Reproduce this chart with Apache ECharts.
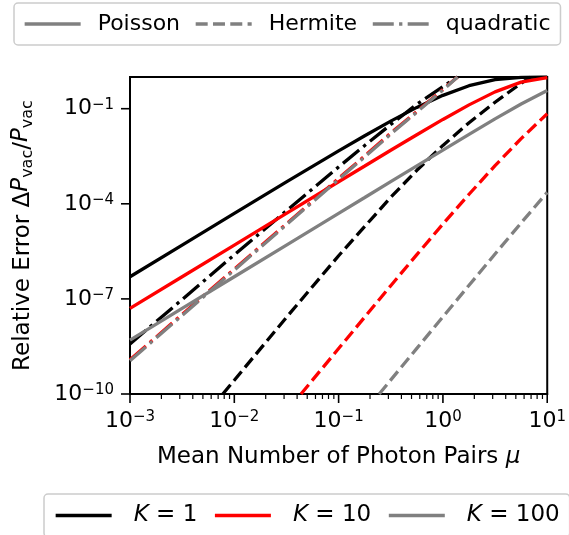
<!DOCTYPE html>
<html>
<head>
<meta charset="utf-8">
<script src="https://cdn.jsdelivr.net/npm/echarts@6/dist/echarts.min.js"></script>
<style>
  html, body { margin: 0; padding: 0; background: #fff; }
  #chart { width: 569px; height: 535px; }
</style>
</head>
<body>
<div id="chart"></div>
<script>
// values (relative error vs mean photon pairs)
const muPoisson = [1e-3, 3.16e-3, 1e-2, 3.16e-2, 0.1, 0.178, 0.316, 0.562, 1, 1.78, 3.16, 5.62, 10]
const poissonK1 = [5.0e-7, 5.0e-6, 4.97e-5, 4.90e-4, 4.68e-3, 1.40e-2, 4.06e-2, 0.110, 0.264, 0.531, 0.824, 0.976, 0.9995]
const poissonK10 = [5.0e-8, 5.0e-7, 5.0e-6, 4.99e-5, 4.97e-4, 1.56e-3, 4.89e-3, 1.51e-2, 4.58e-2, 0.132, 0.340, 0.687, 0.954]
const poissonK100 = [5.0e-9, 5.0e-8, 5.0e-7, 5.0e-6, 5.0e-5, 1.58e-4, 4.99e-4, 1.58e-3, 4.96e-3, 1.55e-2, 4.78e-2, 0.141, 0.374]

const muHermiteK1 = [7.76e-3, 1e-2, 3.16e-2, 0.1, 0.316, 0.562, 1, 1.78, 3.16, 5.62, 6.92]
const hermiteK1 = [1.0e-10, 2.72e-10, 2.61e-8, 2.30e-6, 1.60e-4, 1.14e-3, 6.95e-3, 3.61e-2, 0.160, 0.634, 1.0]
const muHermiteK10 = [4.36e-2, 0.1, 0.316, 0.562, 1, 1.78, 3.16, 5.62, 10]
const hermiteK10 = [1.0e-10, 2.72e-9, 2.61e-7, 2.49e-6, 2.30e-5, 2.00e-4, 1.60e-3, 1.14e-2, 6.95e-2]
const muHermiteK100 = [0.245, 0.562, 1, 1.78, 3.16, 5.62, 10]
const hermiteK100 = [1.0e-10, 2.75e-9, 2.72e-8, 2.69e-7, 2.61e-6, 2.49e-5, 2.30e-4]

const muQuad = [1e-3, 3.16e-3, 1e-2, 3.16e-2, 0.1, 0.178, 0.316, 0.562, 1, 1.38]
const quadK1 = [3.80e-9, 9.55e-8, 2.45e-6, 6.03e-5, 1.45e-3, 6.92e-3, 3.16e-2, 0.138, 0.501, 1.0]
const quadK10 = [1.20e-9, 3.24e-8, 8.71e-7, 2.34e-5, 6.31e-4, 3.24e-3, 1.70e-2, 8.13e-2, 0.407, 1.0]
const quadK100 = [1.12e-9, 3.02e-8, 8.13e-7, 2.19e-5, 5.89e-4, 3.02e-3, 1.58e-2, 7.76e-2, 0.389, 1.0]

const xMajorTicks = [1e-3, 1e-2, 1e-1, 1, 10]
const yMajorTicks = [1e-10, 1e-7, 1e-4, 1e-1]

const font = 'DejaVu Sans'
const lw = 3.3
const dashed = [12, 5.3]
const dashdot = [21, 5.3, 3.3, 5.3]
const xMin = 1e-3
const yMin = 1e-10

const xMinorTicks = []
for (let d = -3; d < 1; d++) {
	for (let m = 2; m < 10; m++) {
		xMinorTicks.push(m * Math.pow(10, d))
	}
}

// tick rows: [x, y, 0 = x tick / 1 = y tick, length, width]
const tickRows = []
xMajorTicks.forEach(v => tickRows.push([v, yMin, 0, 9, 1.6]))
xMinorTicks.forEach(v => tickRows.push([v, yMin, 0, 5, 1.2]))
yMajorTicks.forEach(v => tickRows.push([xMin, v, 1, 9, 1.6]))

const pair = (xs, ys) => xs.map((x, i) => [x, ys[i]])

function curve(name, color, type, xs, ys) {
	return {
		name: name,
		type: 'line',
		symbol: 'none',
		color: color,
		lineStyle: { color: color, width: lw, type: type },
		data: pair(xs, ys),
		animation: false,
		clip: true
	}
}

// empty series, only there to give the line-style legend its entries
function styleOnly(name, type) {
	return {
		name: name,
		type: 'line',
		symbol: 'none',
		color: '#808080',
		lineStyle: { color: '#808080', width: lw, type: type },
		data: [],
		animation: false
	}
}

function powLabel(value) {
	const e = Math.round(Math.log10(value))
	return '{b|10}{s|' + (e < 0 ? '\u2212' + (-e) : e) + '}'
}

const labelRich = {
	b: { fontFamily: font, fontSize: 22, color: '#000', lineHeight: 22, verticalAlign: 'bottom' },
	s: { fontFamily: font, fontSize: 15, color: '#000', lineHeight: 15, verticalAlign: 'top' }
}

const legendBox = {
	itemWidth: 56,
	itemHeight: 22,
	borderColor: '#cccccc',
	borderWidth: 1.5,
	borderRadius: 4,
	backgroundColor: '#fff',
	selectedMode: false,
	itemStyle: { opacity: 0, borderWidth: 0 },
	lineStyle: { width: lw }
}

const chart = echarts.init(document.getElementById('chart'))

chart.setOption({
	backgroundColor: '#fff',
	animation: false,
	legend: [Object.assign({}, legendBox, {
		data: ['Poisson', 'Hermite', 'quadratic'],
		left: 14,
		top: 3,
		width: 600,
		padding: [10, 10, 10, 9],
		itemGap: 14,
		textStyle: { fontFamily: font, fontSize: 22, color: '#000', padding: [0, 0, 0, 12] }
	}), Object.assign({}, legendBox, {
		data: ['K = 1', 'K = 10', 'K = 100'],
		left: 44,
		top: 494,
		width: 600,
		padding: [10, 10, 10, 10],
		itemGap: 16,
		formatter: name => name.replace('K', '{i|K}'),
		textStyle: {
			fontFamily: font, fontSize: 23, color: '#000', padding: [0, 0, 0, 17],
			rich: { i: { fontFamily: font, fontSize: 23, fontStyle: 'italic', color: '#000' } }
		}
	})],
	grid: {
		left: 130,
		top: 77,
		width: 419,
		height: 317,
		show: true,
		borderColor: '#000',
		borderWidth: 2,
		backgroundColor: 'transparent'
	},
	xAxis: {
		type: 'log',
		logBase: 10,
		min: xMin,
		max: 10,
		name: 'Mean Number of Photon Pairs {i|\u03bc}',
		nameLocation: 'middle',
		nameGap: 52,
		nameTextStyle: {
			fontFamily: font, fontSize: 23, color: '#000',
			rich: { i: { fontFamily: font, fontSize: 23, fontStyle: 'italic', color: '#000' } }
		},
		axisLine: { show: true, lineStyle: { color: '#000', width: 2 } },
		axisTick: { show: false },
		axisLabel: { customValues: xMajorTicks, formatter: powLabel, margin: 16, rich: labelRich },
		splitLine: { show: false },
		minorTick: { show: false }
	},
	yAxis: {
		type: 'log',
		logBase: 10,
		min: yMin,
		max: 1,
		name: 'Relative Error \u0394{i|P}{sub|vac}/{i|P}{sub|vac}',
		nameLocation: 'middle',
		nameRotate: 90,
		nameGap: 94,
		nameTextStyle: {
			fontFamily: font, fontSize: 23, color: '#000', lineHeight: 26,
			rich: {
				i: { fontFamily: font, fontSize: 23, fontStyle: 'italic', color: '#000', lineHeight: 26, verticalAlign: 'top' },
				sub: { fontFamily: font, fontSize: 16, color: '#000', lineHeight: 15, verticalAlign: 'bottom' }
			}
		},
		axisLine: { show: true, lineStyle: { color: '#000', width: 2 } },
		axisTick: { show: false },
		axisLabel: { customValues: yMajorTicks, formatter: powLabel, margin: 16, rich: labelRich },
		splitLine: { show: false },
		minorTick: { show: false }
	},
	series: [
		curve('K = 1', '#000000', 'solid', muPoisson, poissonK1),
		curve('K = 1', '#000000', dashed, muHermiteK1, hermiteK1),
		curve('K = 1', '#000000', dashdot, muQuad, quadK1),
		curve('K = 10', '#ff0000', 'solid', muPoisson, poissonK10),
		curve('K = 10', '#ff0000', dashed, muHermiteK10, hermiteK10),
		curve('K = 10', '#ff0000', dashdot, muQuad, quadK10),
		curve('K = 100', '#808080', 'solid', muPoisson, poissonK100),
		curve('K = 100', '#808080', dashed, muHermiteK100, hermiteK100),
		curve('K = 100', '#808080', dashdot, muQuad, quadK100),
		styleOnly('Poisson', 'solid'),
		styleOnly('Hermite', dashed),
		styleOnly('quadratic', dashdot),
		{
			// outward log ticks (major + minor), placed through the axes' own scales
			name: 'ticks',
			type: 'custom',
			coordinateSystem: 'cartesian2d',
			clip: false,
			silent: true,
			animation: false,
			encode: { x: 0, y: 1 },
			data: tickRows,
			renderItem: function (params, api) {
				const p = api.coord([api.value(0), api.value(1)])
				const len = api.value(3)
				const shape = api.value(2) === 0
					? { x1: p[0], y1: p[1], x2: p[0], y2: p[1] + len }
					: { x1: p[0], y1: p[1], x2: p[0] - len, y2: p[1] }
				return { type: 'line', shape: shape, style: { stroke: '#000', lineWidth: api.value(4) } }
			}
		}
	]
})
</script>
</body>
</html>
